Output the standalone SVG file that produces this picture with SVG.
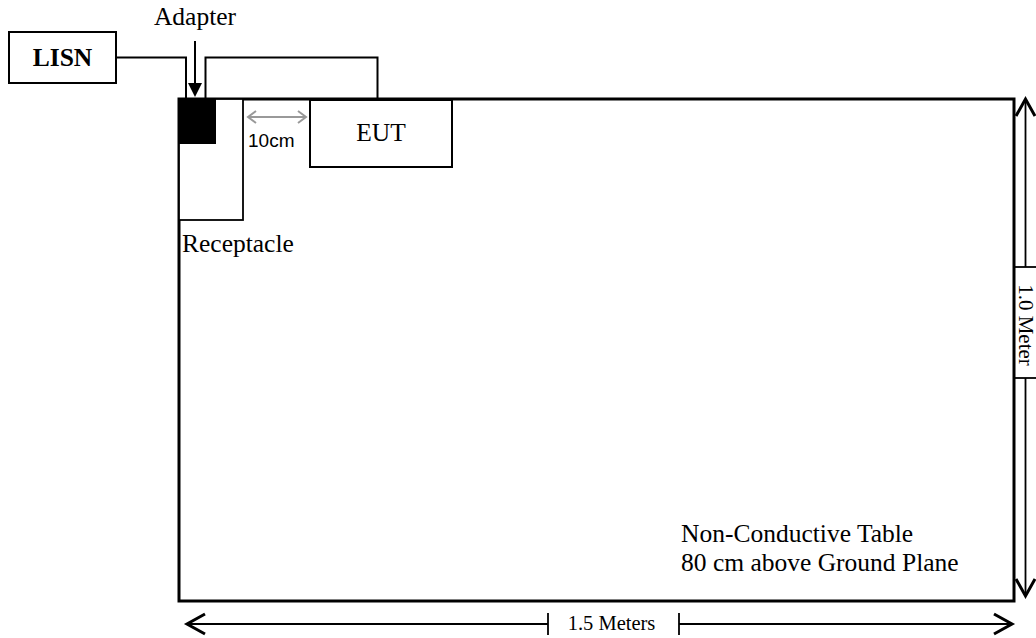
<svg xmlns="http://www.w3.org/2000/svg" width="1036" height="638" viewBox="0 0 1036 638">
<style>
.serif{font-family:"Liberation Serif","Times New Roman",serif;fill:#000}
.t25{font-size:25.5px}
.t21{font-size:21px}
.box{fill:#fff;stroke:#000;stroke-width:2}
.wire{fill:none;stroke:#000;stroke-width:2}
.dim{fill:none;stroke:#000;stroke-width:1.8}
.head{fill:none;stroke:#000;stroke-width:3;stroke-linejoin:miter;stroke-linecap:butt}
.ghead{fill:none;stroke:#999;stroke-width:2}
</style>
<rect width="1036" height="638" fill="#fff"/>
<g id="table">
<rect x="179" y="99" width="835" height="502" fill="#fff" stroke="#000" stroke-width="3"/>
<text class="serif t25" x="681" y="542">Non-Conductive Table</text>
<text class="serif t25" x="681" y="571">80 cm above Ground Plane</text>
</g>
<g id="receptacle">
<rect x="179" y="99" width="64" height="121" fill="#fff" stroke="#000" stroke-width="1.8"/>
<text class="serif t25" x="182" y="252">Receptacle</text>
</g>
<g id="adapter">
<rect x="179" y="99" width="37" height="45" fill="#000"/>
<text class="serif t25" x="195" y="25" text-anchor="middle">Adapter</text>
</g>
<g id="lisn">
<rect class="box" x="9" y="32" width="107" height="51"/>
<text class="serif t25" x="62.5" y="66" text-anchor="middle" font-weight="bold">LISN</text>
</g>
<g id="eut">
<rect class="box" x="310" y="100" width="142" height="67"/>
<text class="serif t25" x="381" y="141" text-anchor="middle">EUT</text>
</g>
<g id="connectors">
<polyline class="wire" points="116,57.5 186,57.5 186,99"/>
<polyline class="wire" points="205.5,99 205.5,57.5 377.5,57.5 377.5,99"/>
<line x1="195" y1="41" x2="195" y2="84" stroke="#000" stroke-width="2"/>
<polygon points="188,83 202,83 195,97" fill="#000"/>
<line x1="248" y1="117" x2="306" y2="117" stroke="#999" stroke-width="2"/>
<polyline class="ghead" points="256,111 248,117 256,123"/>
<polyline class="ghead" points="298,111 306,117 298,123"/>
<text x="248" y="147" font-family="Liberation Sans, Arial, sans-serif" font-size="19" fill="#000">10cm</text>
</g>
<g id="dimensions">
<line class="dim" x1="187" y1="624" x2="548" y2="624"/>
<line class="dim" x1="548" y1="613" x2="548" y2="635"/>
<line class="dim" x1="679" y1="624" x2="1013" y2="624"/>
<line class="dim" x1="679" y1="613" x2="679" y2="635"/>
<polyline class="head" points="205,614 187,624 205,634"/>
<polyline class="head" points="994,614 1012,624 994,634"/>
<text class="serif" font-size="20.5" x="611.5" y="630" text-anchor="middle">1.5 Meters</text>
<line class="dim" x1="1025.5" y1="100" x2="1025.5" y2="267"/>
<line class="dim" x1="1025.5" y1="378" x2="1025.5" y2="595"/>
<line class="dim" x1="1015" y1="267" x2="1036" y2="267"/>
<line class="dim" x1="1015" y1="378" x2="1036" y2="378"/>
<polyline class="head" points="1016,116 1025.5,99 1035,116"/>
<polyline class="head" points="1016,579 1025.5,596 1035,579"/>
<text class="serif t21" transform="translate(1018.5,325) rotate(90)" text-anchor="middle">1.0 Meter</text>
</g>
</svg>
